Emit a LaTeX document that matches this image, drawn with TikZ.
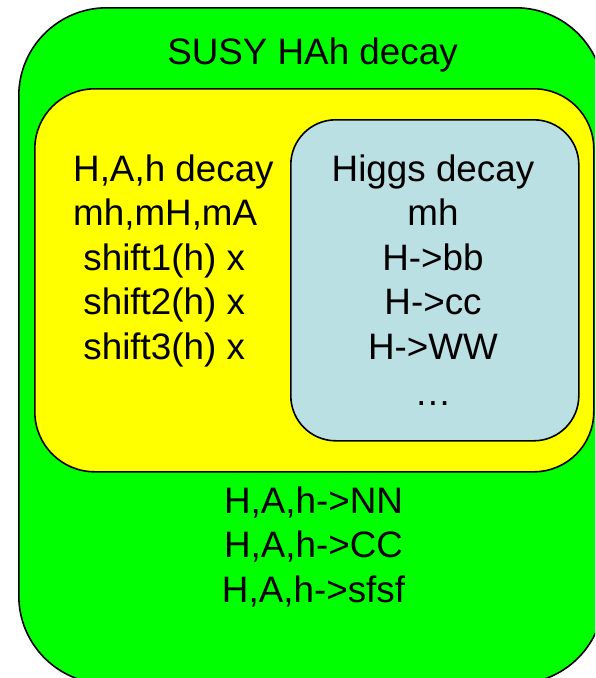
\documentclass[tikz,border=0pt]{standalone}
\usepackage{fontspec}
\setmainfont{Liberation Sans}
\definecolor{susygreen}{HTML}{00FF00}
\definecolor{hahyellow}{HTML}{FFFF00}
\definecolor{higgsblue}{HTML}{BBE0E3}
\begin{document}
\begin{tikzpicture}[x=1pt,y=-1pt,
  panel/.style={draw=black, line width=1.6pt, anchor=north west, inner sep=0pt},
  label/.style={font=\fontsize{36.8}{44}\selectfont, inner sep=0pt, anchor=base},
  leftlabel/.style={label, anchor=base west}]
\useasboundingbox (0,0) rectangle (595,678);
\clip (0,0) rectangle (595,678);
% outer SUSY box
\node[panel, fill=susygreen, rounded corners=88pt,
  minimum width=585pt, minimum height=676pt] (susy) at (18,7) {};
% H,A,h decay box
\node[panel, fill=hahyellow, rounded corners=60pt,
  minimum width=559pt, minimum height=383pt] (hah) at (34,88) {};
% SM Higgs decay box
\node[panel, fill=higgsblue, rounded corners=45pt,
  minimum width=288pt, minimum height=321pt] (higgs) at (290,119) {};
% title
\node[label] (title) at (312.5,64) {SUSY HAh decay};
% left column, left aligned
\node[leftlabel] (l1) at (73,181)   {H,A,h decay};
\node[leftlabel] (l2) at (73,225.5) {mh,mH,mA};
\node[leftlabel] (l3) at (73,270)   {\ shift1(h) x};
\node[leftlabel] (l4) at (73,314.5) {\ shift2(h) x};
\node[leftlabel] (l5) at (73,359)   {\ shift3(h) x};
% right column, centred
\node[label] (r1) at (433,181)   {Higgs decay};
\node[label] (r2) at (433,225.5) {mh};
\node[label] (r3) at (433,270)   {H->bb};
\node[label] (r4) at (433,314.5) {H->cc};
\node[label] (r5) at (433,359.5) {H->WW};
\node[label] (r6) at (433,405)   {\dots};
% bottom lines
\node[label] (b1) at (313.5,513)   {H,A,h->NN};
\node[label] (b2) at (313.5,557.5) {H,A,h->CC};
\node[label] (b3) at (313.5,602)   {H,A,h->sfsf};
\end{tikzpicture}
\end{document}
